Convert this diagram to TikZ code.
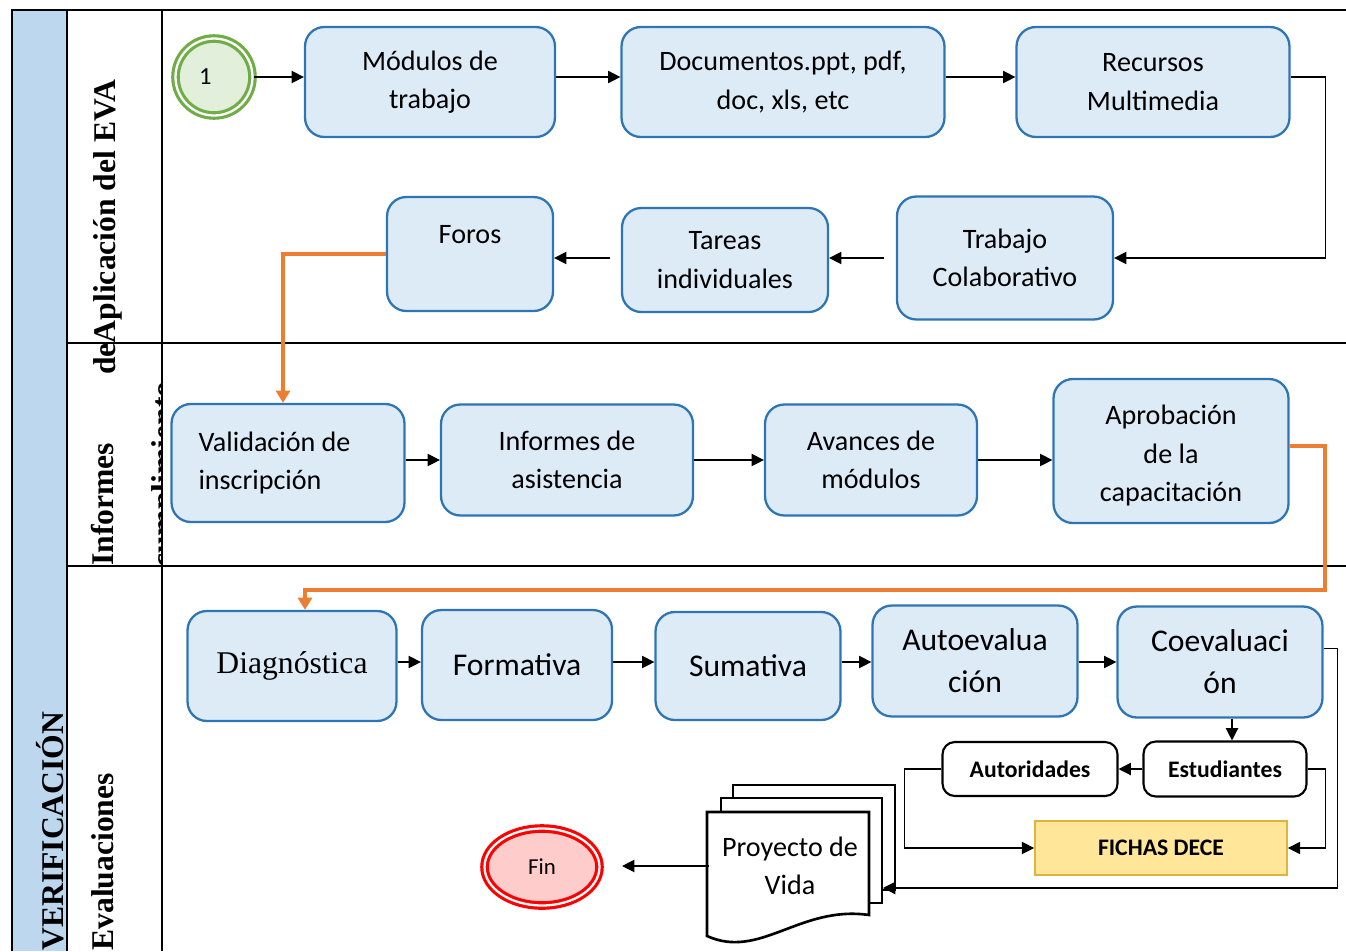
\documentclass[tikz,border=0pt]{standalone}
\usepackage{fontspec}
\setmainfont{Carlito}
\newfontfamily\romanlbl{Liberation Serif}
\usepackage{tikz}
\usetikzlibrary{arrows.meta,calc,positioning,shapes.geometric}

\definecolor{procfill}{HTML}{DDEBF7}
\definecolor{procline}{HTML}{2E75B6}
\definecolor{laneblue}{HTML}{BDD7EE}
\definecolor{flowora}{HTML}{ED7D31}
\definecolor{startgreen}{HTML}{70AD47}
\definecolor{startfill}{HTML}{E2EFDA}
\definecolor{finred}{HTML}{FF0000}
\definecolor{finfill}{HTML}{FFCCCC}
\definecolor{decefill}{HTML}{FFE699}
\definecolor{deceline}{HTML}{DDB440}

\begin{document}
\begin{tikzpicture}[x=0.02cm,y=-0.02cm,
	proc/.style={draw=procline,fill=procfill,line width=1.3pt,rounded corners=11pt,align=center,inner sep=0pt,font=\fontsize{16}{22}\selectfont},
	evalbox/.style={proc,font=\fontsize{18}{24}\selectfont},
	actor/.style={draw=black,fill=white,line width=1.2pt,rounded corners=7pt,inner sep=0pt,font=\bfseries\fontsize{13.5}{16}\selectfont},
	conn/.style={-{Triangle[length=7pt,width=7pt]},line width=0.7pt},
	oconn/.style={-{Triangle[length=7pt,width=8pt]},draw=flowora,line width=2pt},
	lanetxt/.style={rotate=90,anchor=base west,inner sep=0pt,font=\romanlbl\bfseries\fontsize{18}{20}\selectfont},
	grid/.style={line width=1.2pt},
	docline/.style={line width=1.5pt}]
			\useasboundingbox (0,0) rectangle (1346,951);
			\fill[laneblue] (12,10) rectangle (67,951);
			\draw[grid] (1346,10) -- (12,10) -- (12,951);
			\draw[grid] (67,10) -- (67,951);
			\draw[grid] (162,10) -- (162,951);
			\draw[grid] (67,343) -- (1346,343);
			\draw[grid] (67,566) -- (1346,566);
			\node[lanetxt] at (63,951) {VERIFICACIÓN};
			\node[lanetxt] at (115,375) {deAplicación del EVA};
			\node[lanetxt] at (113,566) {Informes};
			\node[lanetxt] at (113,951) {Evaluaciones};
			\begin{scope}
				\clip (68,343) rectangle (161,566);
				\node[lanetxt] at (173,568) {cumplimiento};
			\end{scope}
			
			\node[circle,draw=startgreen,fill=startfill,line width=1.8pt,double=white,double distance=1.3pt,minimum size=1.54cm,inner sep=0pt,font=\fontsize{14}{16}\selectfont] (inicio) at (214,77) {\hspace*{-0.35cm}1};
			\node[proc,minimum width=5cm,minimum height=2.2cm] (modulos) at (430,82) {Módulos de\\trabajo};
			\node[proc,minimum width=6.46cm,minimum height=2.2cm] (documentos) at (783,82) {Documentos.ppt, pdf,\\doc, xls, etc};
			\node[proc,minimum width=5.46cm,minimum height=2.2cm] (recursos) at (1153,82) {Recursos\\Multimedia};
			\node[proc,minimum width=4.32cm,minimum height=2.46cm] (trabajo) at (1005,258) {Trabajo\\Colaborativo};
			\node[proc,minimum width=4.12cm,minimum height=2.08cm] (tareas) at (725,260) {Tareas\\individuales};
			\node[proc,minimum width=3.32cm,minimum height=2.28cm] (foros) at (470,254) {Foros\\\mbox{}};
			
			\node[proc,minimum width=4.66cm,minimum height=2.36cm,text width=3.58cm,align=flush left] (validacion) at (288,463) {Validación de\\inscripción};
			\node[proc,minimum width=5.04cm,minimum height=2.22cm] (informes) at (567,460) {Informes de\\asistencia};
			\node[proc,minimum width=4.24cm,minimum height=2.22cm] (avances) at (871,460) {Avances de\\módulos};
			\node[proc,minimum width=4.7cm,minimum height=2.88cm] (aprobacion) at (1171,451) {\\[-0.2cm]Aprobación\\de la\\capacitación};
			
			\node[evalbox,minimum width=4.18cm,minimum height=2.2cm,font=\romanlbl\fontsize{18}{24}\selectfont] (diagnostica) at (292,666) {Diagnóstica};
			\node[evalbox,minimum width=3.8cm,minimum height=2.2cm] (formativa) at (517,665) {Formativa};
			\node[evalbox,minimum width=3.7cm,minimum height=2.16cm] (sumativa) at (748,666) {Sumativa};
			\node[evalbox,minimum width=4.1cm,minimum height=2.22cm] (autoeval) at (975,661) {Autoevalua\\ción};
			\node[evalbox,minimum width=4.1cm,minimum height=2.22cm] (coeval) at (1220,662) {Coevaluaci\\ón};
			
			\node[actor,minimum width=3.26cm,minimum height=1.1cm] (estudiantes) at (1225,769) {Estudiantes};
			\node[actor,minimum width=3.5cm,minimum height=1.08cm] (autoridades) at (1030,769) {Autoridades};
			\node[draw=deceline,fill=decefill,line width=1pt,minimum width=5.04cm,minimum height=1.08cm,font=\bfseries\fontsize{13.5}{16}\selectfont] (fichas) at (1161,848) {FICHAS DECE};
			
			\draw[docline] (721,812) -- (721,798) -- (882,798) -- (882,903) -- (869,903);
			\draw[docline] (733,798) -- (733,785) -- (895,785) -- (895,890) -- (882,890);
			\draw[docline,fill=white] (707,812) -- (869,812) -- (869,915) .. controls (800,905) and (760,960) .. (707,936) -- cycle;
			\node[minimum width=3.24cm,minimum height=2.48cm,align=center,inner sep=0pt,font=\fontsize{16}{22}\selectfont] (proyecto) at (790,866) {Proyecto de\\Vida};
			\coordinate (pila) at (883,888);
			
			\node[ellipse,draw=finred,fill=finfill,line width=1.8pt,double=white,double distance=1.3pt,minimum width=2.3cm,minimum height=1.54cm,inner sep=0pt,font=\fontsize{13}{15}\selectfont] (fin) at (542,867) {Fin};
			
			\draw[conn] (inicio.east) -- (inicio.east -| modulos.west);
			\draw[conn] (modulos.east |- inicio.east) -- (documentos.west |- inicio.east);
			\draw[conn] (documentos.east |- inicio.east) -- (recursos.west |- inicio.east);
			\draw[conn] (recursos.east |- inicio.east) -- ++(35,0) |- (trabajo.east);
			\draw[conn,shorten <=0.24cm] (trabajo.west) -- (trabajo.west -| tareas.east);
			\draw[conn,shorten <=0.22cm] (tareas.west |- trabajo.west) -- (foros.east |- trabajo.west);
			\draw[oconn] (foros.west) -| ([xshift=-0.1cm]validacion.north);
			
			\draw[conn] (validacion.east |- informes) -- (informes.west);
			\draw[conn] (informes) -- (avances);
			\draw[conn] (avances.east) -- (avances.east -| aprobacion.west);
			\coordinate (giro) at (1325,590);
			\draw[oconn] ([yshift=0.1cm]aprobacion.east) -| (giro) -| ([xshift=0.26cm]diagnostica.north);
			
			\draw[conn] (diagnostica.east |- coeval) -- (formativa.west |- coeval);
			\draw[conn] (formativa.east |- coeval) -- (sumativa.west |- coeval);
			\draw[conn] (sumativa.east |- coeval) -- (autoeval.west |- coeval);
			\draw[conn] (autoeval.east |- coeval) -- (coeval.west);
			\draw[conn] ([xshift=0.14cm]estudiantes.north |- coeval.south) -- ([xshift=0.14cm]estudiantes.north);
			\draw[conn] (estudiantes) -- (autoridades);
			\draw[conn] (autoridades.west) -- ++(-37,0) |- (fichas.west);
			\draw[conn] (estudiantes.east) -- ++(18,0) |- (fichas.east);
			\draw[conn] ([yshift=0.27cm]coeval.east) -- ++(14,0) |- (pila);
			\draw[conn,shorten >=0.42cm] (proyecto.west) -- (proyecto.west -| fin.east);
\end{tikzpicture}
\end{document}
